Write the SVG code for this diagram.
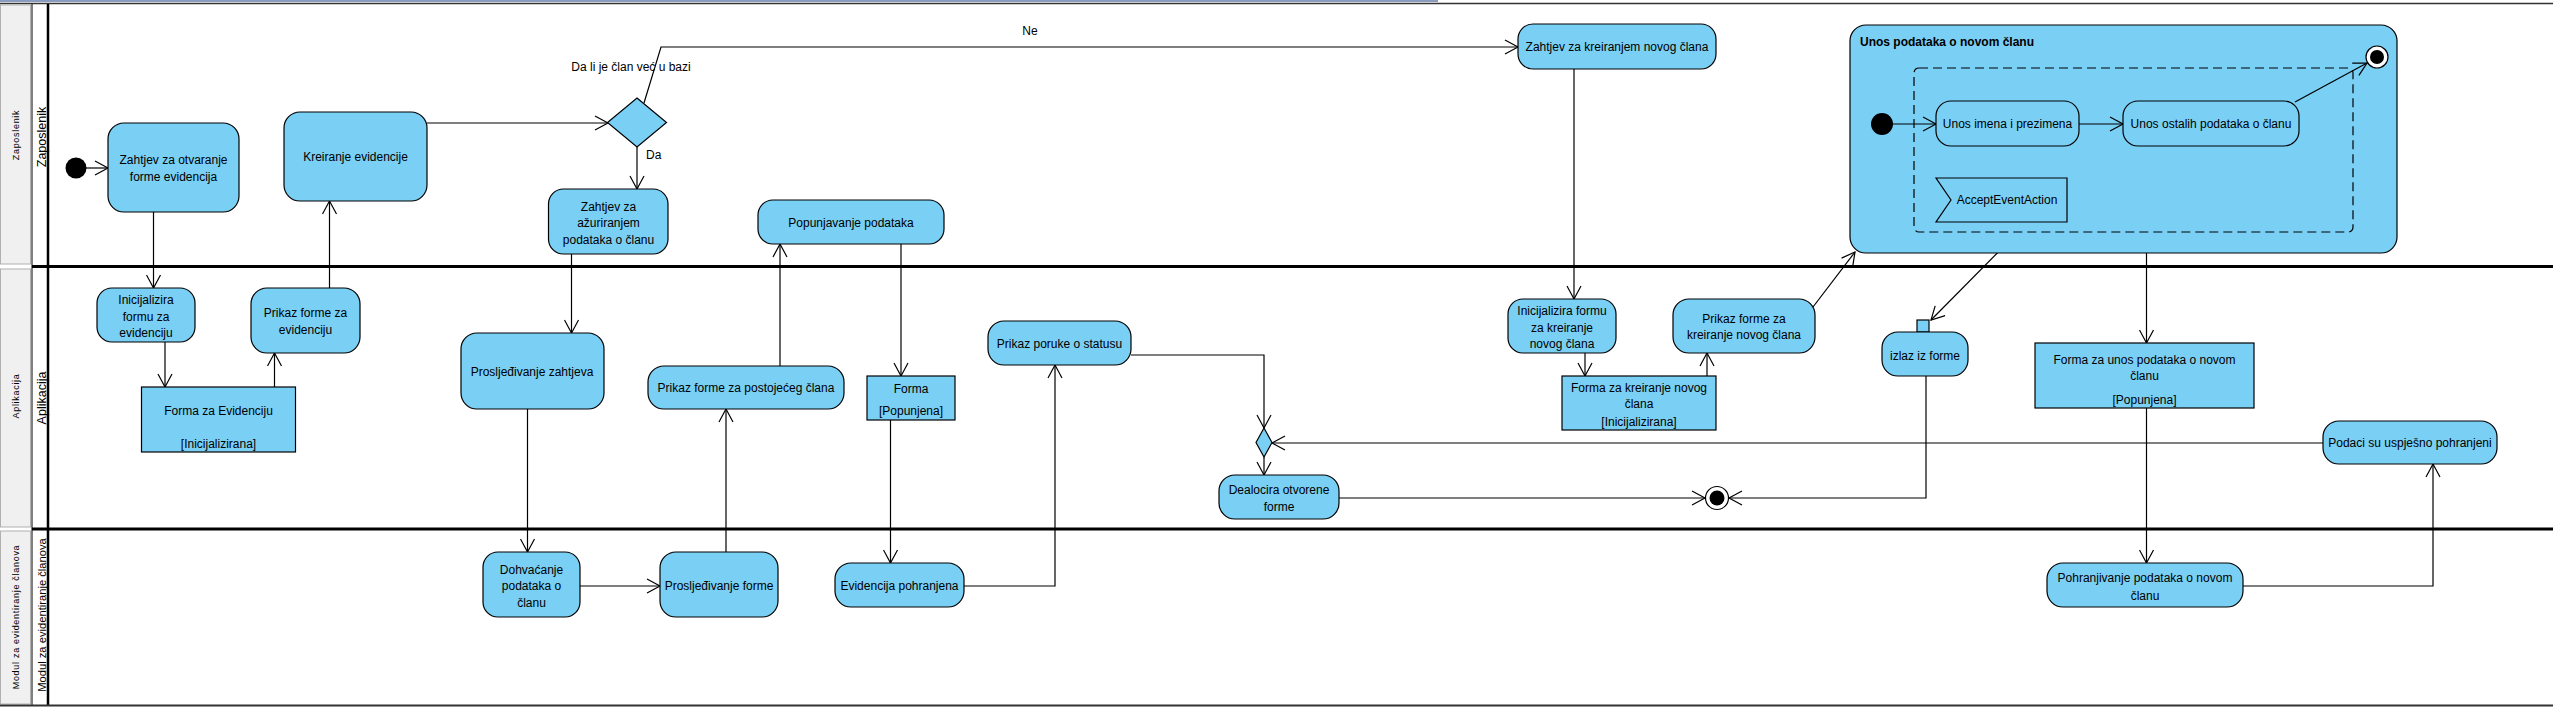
<svg xmlns="http://www.w3.org/2000/svg" width="2553" height="708" viewBox="0 0 2553 708">
<style>
.act{fill:#7ACFF5;stroke:#000;stroke-width:1.2}
.obj{fill:#7ACFF5;stroke:#000;stroke-width:1.2}
.t{font-family:"Liberation Sans",Arial,sans-serif;font-size:12px;text-anchor:middle;fill:#000}
.lbl{font-family:"Liberation Sans",Arial,sans-serif;font-size:12px;fill:#000}
.hdr{font-family:"Liberation Sans",Arial,sans-serif;font-size:9px;letter-spacing:0.7px;text-anchor:middle;fill:#000}
.hdr2{font-family:"Liberation Sans",Arial,sans-serif;font-size:12.5px;text-anchor:middle;fill:#000}
.hdr3{font-family:"Liberation Sans",Arial,sans-serif;font-size:11.2px;text-anchor:middle;fill:#000}
.c{fill:none;stroke:#000;stroke-width:1.2;marker-end:url(#arr)}
</style>
<defs>
<marker id="arr" markerUnits="userSpaceOnUse" markerWidth="16" markerHeight="16" viewBox="0 0 16 16" refX="14" refY="8" orient="auto">
<path d="M1,1 L14,8 L1,15" fill="none" stroke="#000" stroke-width="1.2"/>
</marker>
</defs>
<rect x="0" y="0" width="2553" height="708" fill="#fff"/>
<g id="lanes">
<line x1="0" y1="1" x2="1438" y2="1" stroke="#8a9bbd" stroke-width="2"/>
<line x1="0" y1="3.5" x2="2553" y2="3.5" stroke="#333" stroke-width="1.5"/>
<rect x="0.5" y="5" width="30" height="259" fill="#f0f0f0" stroke="#b0b0b0"/>
<rect x="0.5" y="269" width="30" height="258" fill="#f0f0f0" stroke="#b0b0b0"/>
<rect x="0.5" y="531" width="30" height="173" fill="#f0f0f0" stroke="#b0b0b0"/>
<line x1="32" y1="4" x2="32" y2="706" stroke="#000" stroke-width="1"/>
<line x1="48" y1="4" x2="48" y2="706" stroke="#000" stroke-width="2.5"/>
<line x1="32" y1="266.5" x2="2553" y2="266.5" stroke="#000" stroke-width="3"/>
<line x1="32" y1="529" x2="2553" y2="529" stroke="#000" stroke-width="3"/>
<line x1="0" y1="705.5" x2="2553" y2="705.5" stroke="#333" stroke-width="2"/>
<text class="hdr" transform="translate(19,135) rotate(-90)">Zaposlenik</text>
<text class="hdr" transform="translate(19,396) rotate(-90)">Aplikacija</text>
<text class="hdr" transform="translate(19,617) rotate(-90)">Modul za evidentiranje članova</text>
<text class="hdr2" transform="translate(45.5,137) rotate(-90)">Zaposlenik</text>
<text class="hdr2" transform="translate(45.5,398) rotate(-90)">Aplikacija</text>
<text class="hdr3" transform="translate(45.5,615) rotate(-90)">Modul za evidentiranje članova</text>
</g>
<g id="connectors">
<path class="c" d="M86,168 L108,168"/>
<path class="c" d="M153.5,212 L153.5,288"/>
<path class="c" d="M165,342 L165,387"/>
<path class="c" d="M274.5,387 L274.5,353"/>
<path class="c" d="M329.5,288 L329.5,201"/>
<path class="c" d="M427,123 L608,123"/>
<path class="c" d="M644,103 L661,47 L1518,47"/>
<path class="c" d="M637,147 L637,189"/>
<path class="c" d="M571.5,254 L571.5,333"/>
<path class="c" d="M527.5,409 L527.5,552"/>
<path class="c" d="M580,586 L660,586"/>
<path class="c" d="M726,552 L726,409"/>
<path class="c" d="M780,366 L780,244"/>
<path class="c" d="M901,244 L901,376"/>
<path class="c" d="M890.5,420 L890.5,563"/>
<path class="c" d="M964,586 L1055,586 L1055,365"/>
<path class="c" d="M1131,355 L1264,355 L1264,428"/>
<path class="c" d="M2323,443 L1272,443"/>
<path class="c" d="M1264,457 L1264,475"/>
<path class="c" d="M1339,498 L1705,498"/>
<path class="c" d="M1926,376 L1926,498 L1729,498"/>
<path class="c" d="M1574,69 L1574,299"/>
<path class="c" d="M1585,353 L1585,376"/>
<path class="c" d="M1707,376 L1707,353"/>
<path class="c" d="M1813,307 L1855,252"/>
<path class="c" d="M2026,224 L1931,320"/>
<path class="c" d="M2146.5,253 L2146.5,343"/>
<path class="c" d="M2146.5,408 L2146.5,563"/>
<path class="c" d="M2243,586 L2433,586 L2433,464"/>
</g>
<g id="n_init"><circle cx="76" cy="168" r="10.5" fill="#000"/></g>
<g id="n_zahtjev_otvaranje"><rect class="act" x="108" y="123" width="131" height="89" rx="16"/><text class="t" x="173.5" y="164">Zahtjev za otvaranje</text><text class="t" x="173.5" y="181">forme evidencija</text></g>
<g id="n_kreiranje"><rect class="act" x="284" y="112" width="143" height="89" rx="16"/><text class="t" x="355.5" y="161">Kreiranje evidencije</text></g>
<g id="n_decision"><polygon class="act" points="637,98 666.5,122.5 637,147 607.5,122.5"/>
<text class="t" x="631" y="71">Da li je član već u bazi</text><text class="t" x="1030" y="35">Ne</text><text class="lbl" x="646" y="159">Da</text></g>
<g id="n_zahtjev_azuriranje"><rect class="act" x="548.5" y="189" width="119.5" height="65" rx="15"/><text class="t" x="608.5" y="211">Zahtjev za</text><text class="t" x="608.5" y="227">ažuriranjem</text><text class="t" x="608.5" y="244">podataka o članu</text></g>
<g id="n_popunjavanje"><rect class="act" x="758" y="200" width="186" height="44" rx="15"/><text class="t" x="851" y="227">Popunjavanje podataka</text></g>
<g id="n_zahtjev_kreiranje"><rect class="act" x="1518" y="24" width="198" height="45" rx="15"/><text class="t" x="1617" y="51">Zahtjev za kreiranjem novog člana</text></g>
<g id="n_unos_region">
<rect class="act" x="1850" y="25" width="547" height="228" rx="16"/>
<text class="lbl" x="1860" y="46" font-weight="bold">Unos podataka o novom članu</text>
<rect x="1914" y="68" width="439" height="164" rx="5" fill="none" stroke="#000" stroke-width="1.2" stroke-dasharray="9,5"/>
<circle cx="1882" cy="124" r="11" fill="#000"/>
<path class="c" d="M1893,124 L1936,124"/>
<rect class="act" x="1936" y="101" width="143" height="45" rx="15"/><text class="t" x="2007.5" y="128">Unos imena i prezimena</text>
<path class="c" d="M2079,124 L2123,124"/>
<rect class="act" x="2123" y="101" width="176" height="45" rx="15"/><text class="t" x="2211" y="128">Unos ostalih podataka o članu</text>
<path class="c" d="M2295,102 L2367,63"/>
<circle cx="2377" cy="57" r="11" fill="#fff" stroke="#000" stroke-width="1.2"/><circle cx="2377" cy="57" r="7" fill="#000"/>
<polygon class="act" points="1936,178 2067,178 2067,222 1936,222 1951,200"/><text class="t" x="2007" y="204">AcceptEventAction</text>
</g>
<g id="n_init_forma"><rect class="act" x="97" y="288" width="98" height="54" rx="15"/><text class="t" x="146" y="304">Inicijalizira</text><text class="t" x="146" y="321">formu za</text><text class="t" x="146" y="337">evidenciju</text></g>
<g id="n_forma_evidenciju"><rect class="obj" x="141.5" y="387" width="154" height="65"/><text class="t" x="218.5" y="415">Forma za Evidenciju</text><text class="t" x="218.5" y="448">[Inicijalizirana]</text></g>
<g id="n_prikaz_evidenciju"><rect class="act" x="251" y="288" width="109" height="65" rx="16"/><text class="t" x="305.5" y="317">Prikaz forme za</text><text class="t" x="305.5" y="334">evidenciju</text></g>
<g id="n_prosljedivanje_zahtjeva"><rect class="act" x="461" y="333" width="143" height="76" rx="16"/><text class="t" x="532" y="376">Prosljeđivanje zahtjeva</text></g>
<g id="n_prikaz_postojeceg"><rect class="act" x="648" y="366" width="196" height="43" rx="16"/><text class="t" x="746" y="392">Prikaz forme za postojećeg člana</text></g>
<g id="n_forma_popunjena"><rect class="obj" x="867" y="376" width="88" height="44"/><text class="t" x="911" y="393">Forma</text><text class="t" x="911" y="415">[Popunjena]</text></g>
<g id="n_prikaz_poruke"><rect class="act" x="988" y="321" width="143" height="44" rx="16"/><text class="t" x="1059.5" y="348">Prikaz poruke o statusu</text></g>
<g id="n_merge"><polygon class="act" points="1264,428 1272,442.5 1264,457 1256,442.5"/></g>
<g id="n_dealocira"><rect class="act" x="1219" y="475" width="120" height="44" rx="16"/><text class="t" x="1279" y="494">Dealocira otvorene</text><text class="t" x="1279" y="511">forme</text></g>
<g id="n_final"><circle cx="1717" cy="498" r="11.5" fill="#fff" stroke="#000" stroke-width="1.2"/><circle cx="1717" cy="498" r="7.5" fill="#000"/></g>
<g id="n_init_kreiranje"><rect class="act" x="1508" y="299" width="108" height="54" rx="15"/><text class="t" x="1562" y="315">Inicijalizira formu</text><text class="t" x="1562" y="332">za kreiranje</text><text class="t" x="1562" y="348">novog člana</text></g>
<g id="n_forma_kreiranje"><rect class="obj" x="1562" y="376" width="154" height="54"/><text class="t" x="1639" y="392">Forma za kreiranje novog</text><text class="t" x="1639" y="408">člana</text><text class="t" x="1639" y="426">[Inicijalizirana]</text></g>
<g id="n_prikaz_kreiranje"><rect class="act" x="1673" y="299" width="142" height="54" rx="16"/><text class="t" x="1744" y="323">Prikaz forme za</text><text class="t" x="1744" y="339">kreiranje novog člana</text></g>
<g id="n_izlaz"><rect class="act" x="1917" y="320" width="12" height="12"/><rect class="act" x="1882" y="332" width="86" height="44" rx="16"/><text class="t" x="1925" y="360">izlaz iz forme</text></g>
<g id="n_forma_unos"><rect class="obj" x="2035" y="343" width="219" height="65"/><text class="t" x="2144.5" y="364">Forma za unos podataka o novom</text><text class="t" x="2144.5" y="380">članu</text><text class="t" x="2144.5" y="404">[Popunjena]</text></g>
<g id="n_podaci"><rect class="act" x="2323" y="421" width="174" height="43" rx="16"/><text class="t" x="2410" y="447">Podaci su uspješno pohranjeni</text></g>
<g id="n_pohranjivanje"><rect class="act" x="2047" y="563" width="196" height="44" rx="16"/><text class="t" x="2145" y="582">Pohranjivanje podataka o novom</text><text class="t" x="2145" y="600">članu</text></g>
<g id="n_dohvacanje"><rect class="act" x="483" y="552" width="97" height="65" rx="15"/><text class="t" x="531.5" y="574">Dohvaćanje</text><text class="t" x="531.5" y="590">podataka o</text><text class="t" x="531.5" y="607">članu</text></g>
<g id="n_prosljedivanje_forme"><rect class="act" x="660" y="552" width="118" height="65" rx="16"/><text class="t" x="719" y="590">Prosljeđivanje forme</text></g>
<g id="n_evidencija"><rect class="act" x="835" y="563" width="129" height="44" rx="16"/><text class="t" x="899.5" y="590">Evidencija pohranjena</text></g>
</svg>
